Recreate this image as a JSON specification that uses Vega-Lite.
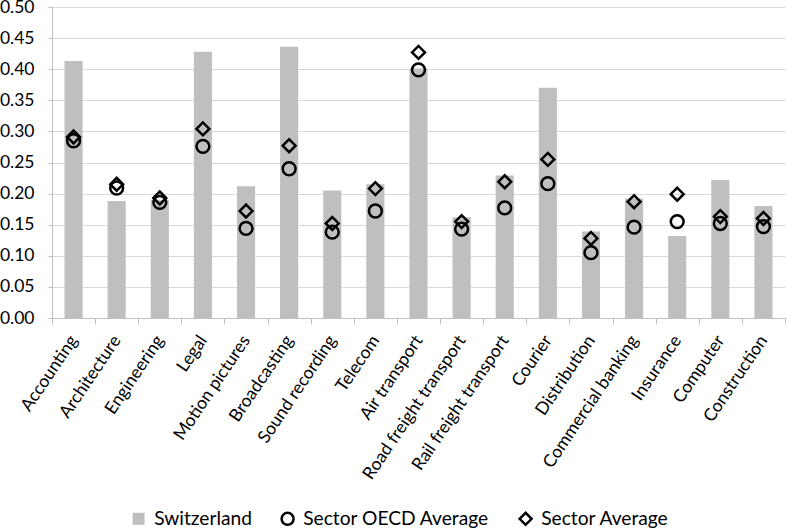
{
  "$schema": "https://vega.github.io/schema/vega-lite/v6.json",
  "width": 733,
  "height": 311,
  "autosize": {"type": "none"},
  "padding": {"left": 52, "top": 7, "right": 2, "bottom": 212},
  "background": "white",
  "config": {
    "view": {"stroke": null},
    "font": "Lato",
    "axis": {"labelFont": "Lato", "labelColor": "#000000"},
    "legend": {"labelFont": "Lato", "labelColor": "#000000", "labelLimit": 0}
  },
  "data": {
    "values": [
      {"category": "Accounting", "Switzerland": 0.413, "Sector OECD Average": 0.285, "Sector Average": 0.291},
      {"category": "Architecture", "Switzerland": 0.188, "Sector OECD Average": 0.209, "Sector Average": 0.215},
      {"category": "Engineering", "Switzerland": 0.19, "Sector OECD Average": 0.186, "Sector Average": 0.193},
      {"category": "Legal", "Switzerland": 0.428, "Sector OECD Average": 0.276, "Sector Average": 0.304},
      {"category": "Motion pictures", "Switzerland": 0.212, "Sector OECD Average": 0.144, "Sector Average": 0.172},
      {"category": "Broadcasting", "Switzerland": 0.436, "Sector OECD Average": 0.24, "Sector Average": 0.277},
      {"category": "Sound recording", "Switzerland": 0.205, "Sector OECD Average": 0.138, "Sector Average": 0.152},
      {"category": "Telecom", "Switzerland": 0.215, "Sector OECD Average": 0.172, "Sector Average": 0.208},
      {"category": "Air transport", "Switzerland": 0.401, "Sector OECD Average": 0.399, "Sector Average": 0.427},
      {"category": "Road freight transport", "Switzerland": 0.162, "Sector OECD Average": 0.143, "Sector Average": 0.155},
      {"category": "Rail freight transport", "Switzerland": 0.229, "Sector OECD Average": 0.177, "Sector Average": 0.219},
      {"category": "Courier", "Switzerland": 0.37, "Sector OECD Average": 0.216, "Sector Average": 0.255},
      {"category": "Distribution", "Switzerland": 0.139, "Sector OECD Average": 0.105, "Sector Average": 0.128},
      {"category": "Commercial banking", "Switzerland": 0.192, "Sector OECD Average": 0.146, "Sector Average": 0.187},
      {"category": "Insurance", "Switzerland": 0.132, "Sector OECD Average": 0.155, "Sector Average": 0.199},
      {"category": "Computer", "Switzerland": 0.222, "Sector OECD Average": 0.152, "Sector Average": 0.163},
      {"category": "Construction", "Switzerland": 0.18, "Sector OECD Average": 0.147, "Sector Average": 0.16}
    ]
  },
  "transform": [
    {"fold": ["Switzerland", "Sector OECD Average", "Sector Average"], "as": ["series", "value"]}
  ],
  "encoding": {
    "x": {
      "field": "category",
      "type": "nominal",
      "sort": null,
      "scale": {"paddingInner": 0, "paddingOuter": 0},
      "axis": {
        "title": null,
        "labelAngle": -56,
        "labelFontSize": 17.5,
        "labelPadding": 13,
        "labelLimit": 0,
        "domainColor": "#bfbfbf",
        "domainWidth": 1,
        "tickColor": "#bfbfbf",
        "tickSize": 6,
        "tickBand": "extent",
        "grid": false
      }
    },
    "y": {
      "field": "value",
      "type": "quantitative",
      "scale": {"domain": [0, 0.5], "nice": false},
      "axis": {
        "title": null,
        "values": [0, 0.05, 0.1, 0.15, 0.2, 0.25, 0.3, 0.35, 0.4, 0.45, 0.5],
        "format": ".2f",
        "labelFontSize": 17.5,
        "labelPadding": 14,
        "ticks": true,
        "tickSize": 4,
        "tickColor": "#bfbfbf",
        "domainColor": "#bfbfbf",
        "grid": true,
        "gridColor": "#d9d9d9",
        "gridWidth": 1.2
      }
    },
    "fill": {
      "field": "series",
      "type": "nominal",
      "scale": {
        "domain": ["Switzerland", "Sector OECD Average", "Sector Average"],
        "range": ["#bfbfbf", "transparent", "transparent"]
      },
      "legend": {
        "title": null,
        "orient": "none",
        "direction": "horizontal",
        "legendX": 77,
        "legendY": 502,
        "labelFontSize": 19.2,
        "labelLimit": 0,
        "symbolSize": 144,
        "symbolStrokeWidth": 2.5,
        "labelOffset": 6,
        "columnPadding": 24
      }
    },
    "stroke": {
      "field": "series",
      "type": "nominal",
      "scale": {
        "domain": ["Switzerland", "Sector OECD Average", "Sector Average"],
        "range": ["transparent", "#000000", "#000000"]
      },
      "legend": {
        "title": null,
        "orient": "none",
        "direction": "horizontal",
        "legendX": 77,
        "legendY": 502,
        "labelFontSize": 19.2,
        "labelLimit": 0,
        "symbolSize": 144,
        "symbolStrokeWidth": 2.5,
        "labelOffset": 6,
        "columnPadding": 24
      }
    }
  },
  "layer": [
    {
      "transform": [{"filter": "datum.series === 'Switzerland'"}],
      "mark": {"type": "bar", "width": {"band": 0.42}, "opacity": 1}
    },
    {
      "transform": [{"filter": "datum.series !== 'Switzerland'"}],
      "mark": {"type": "point", "strokeWidth": 2.5, "size": 165, "opacity": 1},
      "encoding": {
        "shape": {
          "field": "series",
          "type": "nominal",
          "scale": {
            "domain": ["Switzerland", "Sector OECD Average", "Sector Average"],
            "range": ["square", "circle", "diamond"]
          },
          "legend": {
            "title": null,
            "orient": "none",
            "direction": "horizontal",
            "legendX": 77,
            "legendY": 502,
            "labelFontSize": 19.2,
            "labelLimit": 0,
            "symbolSize": 144,
            "symbolStrokeWidth": 2.5,
            "labelOffset": 6,
            "columnPadding": 24
          }
        }
      }
    }
  ]
}
